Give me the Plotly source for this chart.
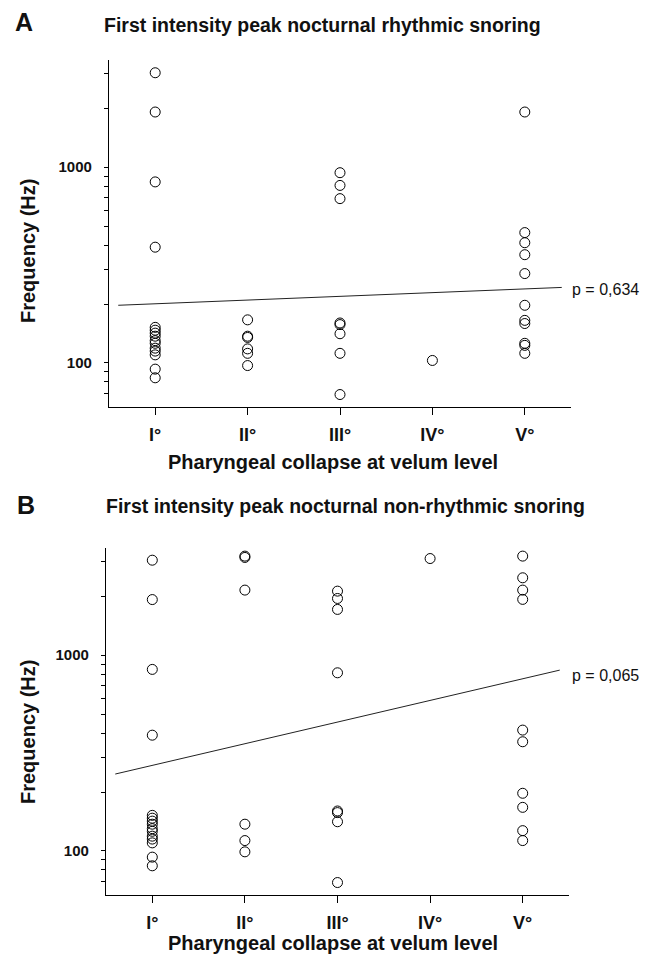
import plotly.graph_objects as go
import math

W, H = 650, 963

categories = ["I°", "II°", "III°", "IV°", "V°"]
cat_pos = [0, 1, 2, 3, 4]

# Panel A: rhythmic snoring (Hz)
a_I = [3030, 1910, 840, 390, 152, 147, 142, 137, 130, 126, 119, 115, 110, 93, 84]
a_II = [166, 137, 135, 118, 112, 97]
a_III = [936, 806, 690, 160, 157, 141, 112, 69]
a_IV = [103]
a_V = [1910, 463, 411, 357, 286, 197, 165, 159, 126, 123, 112]

# Panel B: non-rhythmic snoring (Hz)
b_I = [3050, 1920, 845, 390, 152, 147, 142, 137, 130, 126, 119, 115, 110, 93, 84]
b_II = [3200, 3150, 2146, 137, 113, 99]
b_III = [2120, 1945, 1710, 812, 160, 157, 141, 69]
b_IV = [3110]
b_V = [3200, 2480, 2146, 1924, 414, 361, 197, 167, 127, 113]

# regression lines (endpoints)
a_line_x = [-0.4, 4.4]
a_line_y = [197, 243]
b_line_x = [-0.4, 4.4]
b_line_y = [247, 838]

y_tick_vals = [70, 80, 90, 100, 200, 300, 400, 500, 600, 700, 800, 900, 1000, 2000, 3000]
y_tick_text = ["", "", "", "100", "", "", "", "", "", "", "", "", "1000", "", ""]

panel_letters = ["A", "B"]
panel_titles = ["First intensity peak nocturnal rhythmic snoring",
                "First intensity peak nocturnal non-rhythmic snoring"]
p_labels = ["p = 0,634", "p = 0,065"]
x_title = "Pharyngeal collapse at velum level"
y_title = "Frequency (Hz)"

FONT = "Liberation Sans, Arial, Helvetica, sans-serif"

def px(x):
    return x / W

def py(y):
    return 1 - y / H

fig = go.Figure()

def add_points(groups, xa, ya):
    xs, ys = [], []
    for pos, vals in zip(cat_pos, groups):
        xs += [pos] * len(vals)
        ys += vals
    fig.add_trace(go.Scatter(
        x=xs, y=ys, mode="markers", xaxis=xa, yaxis=ya,
        marker=dict(symbol="circle-open", size=10, color="black",
                    line=dict(width=1, color="black")),
        showlegend=False, hoverinfo="y"))

add_points([a_I, a_II, a_III, a_IV, a_V], "x", "y")
add_points([b_I, b_II, b_III, b_IV, b_V], "x2", "y2")

fig.add_trace(go.Scatter(x=a_line_x, y=a_line_y, mode="lines", xaxis="x", yaxis="y",
                         line=dict(color="#222222", width=1), showlegend=False))
fig.add_trace(go.Scatter(x=b_line_x, y=b_line_y, mode="lines", xaxis="x2", yaxis="y2",
                         line=dict(color="#222222", width=1), showlegend=False))

yr = [math.log10(59.6), math.log10(3520)]

def xaxis_style(domain):
    return dict(domain=domain, range=[-0.5, 4.5], tickvals=cat_pos, ticktext=categories,
                showgrid=False, zeroline=False, showline=True, linecolor="black",
                linewidth=1.3, ticks="outside", ticklen=7, tickwidth=1.3,
                tickcolor="black", ticklabelstandoff=4,
                tickfont=dict(family=FONT, size=18, color="#111", weight="bold"),
                fixedrange=True)

def yaxis_style(domain, anchor):
    return dict(domain=domain, type="log", range=yr, tickvals=y_tick_vals,
                ticktext=y_tick_text, anchor=anchor,
                showgrid=False, zeroline=False, showline=True, linecolor="black",
                linewidth=1.3, ticks="outside", ticklen=4, tickwidth=1.3,
                tickcolor="black", ticklabelstandoff=9,
                tickfont=dict(family=FONT, size=15, color="#111", weight="bold"),
                fixedrange=True)

fig.update_layout(
    width=W, height=H,
    margin=dict(l=0, r=0, t=0, b=0),
    paper_bgcolor="white", plot_bgcolor="white",
    xaxis=dict(**xaxis_style([px(109), px(571)]), anchor="y"),
    yaxis=yaxis_style([py(407), py(60)], "x"),
    xaxis2=dict(**xaxis_style([px(106), px(569)]), anchor="y2"),
    yaxis2=yaxis_style([py(895), py(548)], "x2"),
)

ann = []
# panel letters
for letter, (x, y) in zip(panel_letters, [(24, 22.5), (26, 505)]):
    ann.append(dict(text="<b>%s</b>" % letter, x=px(x), y=py(y), xref="paper", yref="paper",
                    xanchor="center", yanchor="middle", showarrow=False,
                    font=dict(family=FONT, size=25, color="#111")))
# panel titles
for t, (x, y) in zip(panel_titles, [(102, 25.5), (104, 506.5)]):
    ann.append(dict(text="<b>%s</b>" % t, x=px(x), y=py(y), xref="paper", yref="paper",
                    xanchor="left", yanchor="middle", showarrow=False,
                    font=dict(family=FONT, size=19.5, color="#111")))
# x titles
for (x, y) in [(333, 461.7), (333, 943)]:
    ann.append(dict(text="<b>%s</b>" % x_title, x=px(x), y=py(y), xref="paper", yref="paper",
                    xanchor="center", yanchor="middle", showarrow=False,
                    font=dict(family=FONT, size=20, color="#111")))
# y titles
for (x, y) in [(28, 251), (28, 732)]:
    ann.append(dict(text="<b>%s</b>" % y_title, x=px(x), y=py(y), xref="paper", yref="paper",
                    xanchor="center", yanchor="middle", showarrow=False, textangle=-90,
                    font=dict(family=FONT, size=20, color="#111")))
# p labels
for t, (x, y) in zip(p_labels, [(570, 289), (570, 675)]):
    ann.append(dict(text=t, x=px(x), y=py(y), xref="paper", yref="paper",
                    xanchor="left", yanchor="middle", showarrow=False,
                    font=dict(family=FONT, size=16, color="#111")))

fig.update_layout(annotations=ann)

fig.write_html("out.html")
